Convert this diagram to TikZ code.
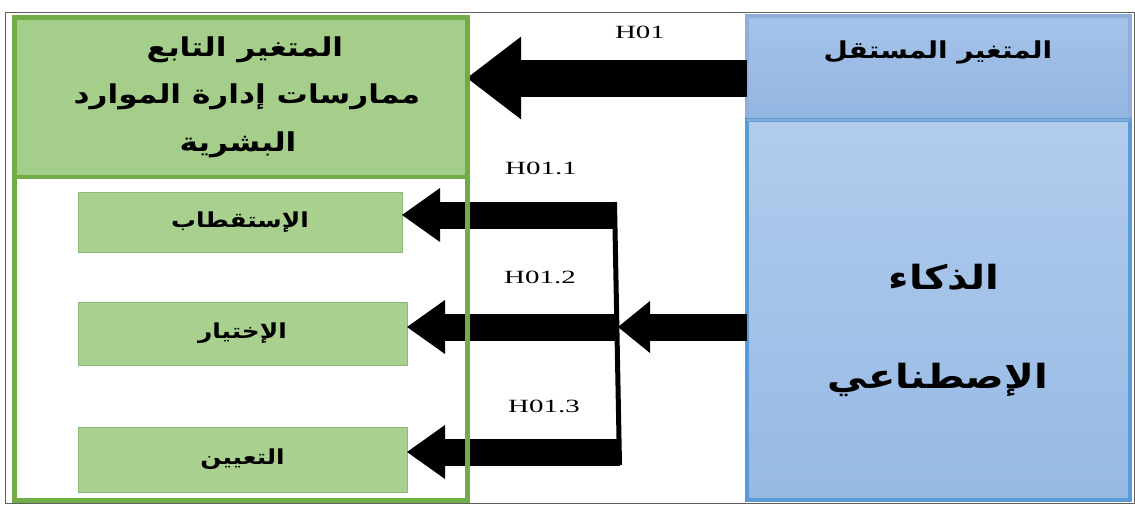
\documentclass[tikz,border=0pt]{standalone}
\usepackage{fontspec}
\usetikzlibrary{arrows.meta,fit}
\TeXXeTstate=1
\newfontfamily\arabicfont[Script=Arabic,FakeStretch=1.2]{DejaVu Sans}
\newfontfamily\hfont[FakeStretch=1.55]{Liberation Serif}
\definecolor{gborder}{HTML}{70AD47}
\definecolor{gfill}{HTML}{A6CE8B}
\definecolor{gbox}{HTML}{A9D08E}
\definecolor{gboxline}{HTML}{8DBA72}
\definecolor{bborder}{HTML}{5B9BD5}
\definecolor{bheadline}{HTML}{8FAEDC}
\definecolor{bsep}{HTML}{88ABDB}
\definecolor{bheadtop}{HTML}{A6C3EA}
\definecolor{bheadbot}{HTML}{92B5E1}
\definecolor{bbodytop}{HTML}{B1CCED}
\definecolor{bbodybot}{HTML}{96B9E4}
\definecolor{frame}{HTML}{606060}
\tikzset{
  region/.style={inner sep=0pt, outer sep=0pt},
  arabic/.style={font=\arabicfont\bfseries\fontsize{#1}{#1}\selectfont, inner sep=0pt},
  hlabel/.style={font=\hfont\fontsize{14}{14}\selectfont, inner sep=0pt},
  subbox/.style={region, fill=gbox, draw=gboxline, line width=0.75pt},
  bigarrow/.style={line width=27.75pt, -{Triangle[length=40.5pt,width=62pt,line width=0pt]}},
  smallarrow/.style={line width=20.25pt, -{Triangle[length=28.5pt,width=40.5pt,line width=0pt]}},
  inarrow/.style={line width=20.25pt, -{Triangle[length=24pt,width=39pt,line width=0pt]}},
}
\begin{document}
\begin{tikzpicture}[x=0.75pt,y=-0.75pt]
\useasboundingbox (0,0) rectangle (1135,504);
% outer frame
\draw[frame, line width=0.75pt] (5,12) rectangle (1134,503);

% green (dependent variable) area
\node[region, fit={(14.5,17) (467,500)}] (green) {};
\node[region, fill=gfill, fit={(14.5,17) (467,177)}] (ghead) {};
\node[arabic=19.5] (g1) at (245,50) {\beginR المتغير التابع\endR};
\node[arabic=19.5] (g2) at (247,97) {\beginR ممارسات إدارة الموارد\endR};
\node[arabic=19.5] (g3) at (238,145) {\beginR البشرية\endR};
\node[subbox, fit={(78,192) (402,252)}] (box1) {};
\node[subbox, fit={(78,302) (407,365)}] (box2) {};
\node[subbox, fit={(78,427) (407,492)}] (box3) {};
\node[arabic=15.5] (t1) at (box1) {\beginR الإستقطاب\endR};
\node[arabic=15.5] (t2) at (box2) {\beginR الإختيار\endR};
\node[arabic=15.5] (t3) at (box3) {\beginR التعيين\endR};

% blue (independent variable) area
\node[region, top color=bheadtop, bottom color=bheadbot, fit={(747,16) (1130,120)}] (bhead) {};
\node[region, top color=bbodytop, bottom color=bbodybot, fit={(747,120) (1130,500)}] (blue) {};
\draw[bheadline, line width=3pt] (bhead.south west) rectangle (bhead.north east);
\draw[bborder, line width=3pt] (blue.south west) rectangle (blue.north east);
\draw[bsep, line width=1.5pt] (bhead.south west) -- (bhead.south east);
\node[arabic=17.5] (btext) at (938,52) {\beginR المتغير المستقل\endR};
\node[arabic=25] (ai1) at (944,277) {\beginR الذكاء\endR};
\node[arabic=25] (ai2) at (938,380) {\beginR الإصطناعي\endR};

% connectors
\coordinate (h) at (0,78);
\coordinate (jt) at (614.5,202);
\coordinate (jb) at (619.5,465);
\coordinate (j1) at (617,215);
\coordinate (j2) at (618,327);
\coordinate (j3) at (620,452);
\draw[line width=3.75pt] (jt) -- (jb);
\draw[bigarrow] (bhead.west |- h) -- (green.east |- h);
\draw[smallarrow] (j1) -- (box1.east |- j1);
\draw[smallarrow] (j2) -- (box2.east |- j2);
\draw[smallarrow] (j3) -- (box3.east |- j3);
\draw[inarrow] (blue.west |- j2) -- (j2);

% green border on top
\draw[gborder, line width=3.75pt] (green.south west) rectangle (green.north east);
\draw[gborder, line width=3pt] (ghead.south west) -- (ghead.south east);

% labels
\node[hlabel] (l0) at (640,32) {H01};
\node[hlabel] (l1) at (541,168) {H01.1};
\node[hlabel] (l2) at (540,277) {H01.2};
\node[hlabel] (l3) at (544,406) {H01.3};
\end{tikzpicture}
\end{document}
